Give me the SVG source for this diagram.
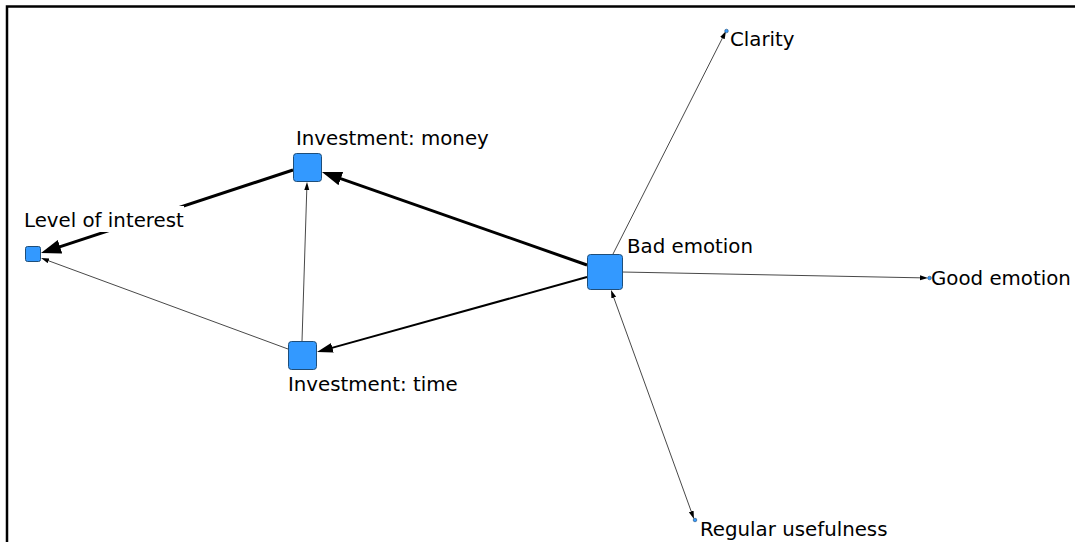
<svg xmlns="http://www.w3.org/2000/svg" width="1075" height="542" viewBox="0 0 1075 542">
  <style>
    .lbl { font-family: "DejaVu Sans", Verdana, sans-serif; font-size: 19.8px; fill: #000; }
    .node { fill: #3399ff; stroke: #1f4e79; stroke-width: 1; }
    .dot { fill: #3399ff; stroke: #1f4e79; stroke-width: 0.6; }
    .thick { stroke: #000; stroke-width: 3; fill: none; }
    .mid { stroke: #000; stroke-width: 2; fill: none; }
    .thin { stroke: #333; stroke-width: 0.9; fill: none; }
  </style>
  <defs>
    <marker id="arrow-lg" markerUnits="userSpaceOnUse" markerWidth="22" markerHeight="16" refX="10" refY="7" orient="auto">
      <path d="M0,0 L20,7 L0,14 z" fill="#000"/>
    </marker>
    <marker id="arrow-md" markerUnits="userSpaceOnUse" markerWidth="18" markerHeight="12" refX="8" refY="5" orient="auto">
      <path d="M0,0 L16,5 L0,10 z" fill="#000"/>
    </marker>
    <marker id="arrow-sm" markerUnits="userSpaceOnUse" markerWidth="10" markerHeight="6" refX="4" refY="2.5" orient="auto-start-reverse">
      <path d="M0,0 L8,2.5 L0,5 z" fill="#000"/>
    </marker>
  </defs>

  <rect width="1075" height="542" fill="#fff"/>
  <!-- frame: top and left edges -->
  <path d="M7,542 V6.5 H1075" fill="none" stroke="#000" stroke-width="2.5"/>

  <g id="connectors">
    <line class="thick" x1="293" y1="170" x2="50.5" y2="249.9" marker-end="url(#arrow-lg)"/>
    <line class="thick" x1="587" y1="265" x2="331.4" y2="175.3" marker-end="url(#arrow-lg)"/>
    <line class="mid" x1="587" y1="277" x2="324.7" y2="349.9" marker-end="url(#arrow-md)"/>
    <line class="thin" x1="302" y1="341" x2="306.9" y2="186" marker-end="url(#arrow-sm)"/>
    <line class="thin" x1="288" y1="349" x2="44.8" y2="259.4" marker-end="url(#arrow-sm)"/>
    <line class="thin" x1="613" y1="254" x2="724.2" y2="34.6" marker-end="url(#arrow-sm)"/>
    <line class="thin" x1="622" y1="272" x2="924" y2="277.9" marker-end="url(#arrow-sm)"/>
    <line class="thin" x1="612.4" y1="293.8" x2="692.6" y2="515.2" marker-start="url(#arrow-sm)" marker-end="url(#arrow-sm)"/>
  </g>

  <g id="level-of-interest">
    <rect x="22" y="206" width="162" height="26" fill="#fff"/>
    <text class="lbl" x="24" y="227">Level of interest</text>
    <rect class="node" x="25.5" y="246.5" width="15" height="15" rx="2"/>
  </g>

  <g id="investment-money">
    <text class="lbl" x="296" y="145">Investment: money</text>
    <rect class="node" x="293.5" y="153.5" width="28" height="28" rx="3"/>
  </g>

  <g id="investment-time">
    <rect class="node" x="288.5" y="341.5" width="28" height="28" rx="3"/>
    <text class="lbl" x="288" y="391">Investment: time</text>
  </g>

  <g id="bad-emotion">
    <rect class="node" x="587.5" y="254.5" width="35" height="35" rx="3"/>
    <text class="lbl" x="627" y="253">Bad emotion</text>
  </g>

  <g id="clarity">
    <circle class="dot" cx="726.5" cy="31" r="1.8"/>
    <text class="lbl" x="730" y="46">Clarity</text>
  </g>

  <g id="good-emotion">
    <circle class="dot" cx="929.5" cy="278" r="1.8"/>
    <text class="lbl" x="931" y="285">Good emotion</text>
  </g>

  <g id="regular-usefulness">
    <circle class="dot" cx="695" cy="520" r="1.8"/>
    <text class="lbl" x="700" y="536">Regular usefulness</text>
  </g>
</svg>
